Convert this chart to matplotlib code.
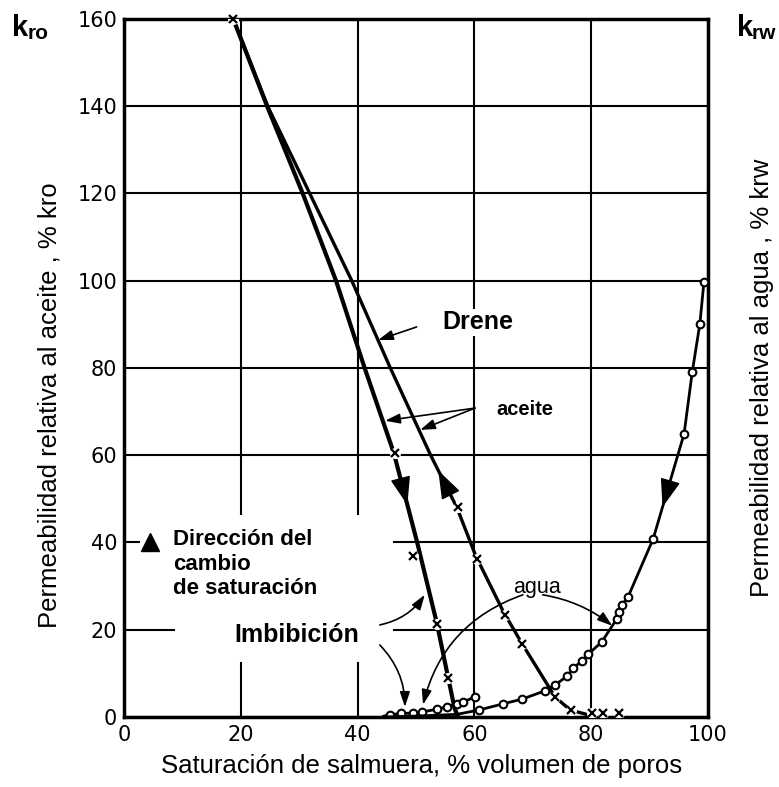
import matplotlib.pyplot as plt
from matplotlib.patches import Rectangle
import numpy as np

plt.rcParams['font.family'] = ['Liberation Sans', 'DejaVu Sans']

# oil relative permeability curves (brine saturation %, kro %)
sw_kro_imb = [18.7, 24.5, 30.6, 36.3, 41.2, 46.2, 50.2, 53.6, 55.5, 56.6, 57.2]
kro_imb = [160, 140, 120, 100, 80, 60.5, 40, 21.3, 9, 2, 0]
sw_kro_dren = [18.7, 24.6, 31.8, 39.0, 45.6, 52.5, 57.0, 60.2, 65.0, 68.2, 73.8, 76.4, 80.0]
kro_dren = [160, 140, 120, 100, 80, 60, 48, 37, 24, 16.7, 4.6, 1.6, 0.3]

# measured oil points (x marks)
sw_pts_imb = [18.7, 46.4, 49.5, 53.6, 55.5]
kro_pts_imb = [160, 60.5, 37, 21.3, 9]
sw_pts_dren = [57.2, 60.4, 65.2, 68.2, 73.8, 76.6, 80.1, 82.0, 84.7]
kro_pts_dren = [48.1, 36.2, 23.4, 16.7, 4.5, 1.5, 0.9, 0.9, 0.9]

# water relative permeability curves (open circles)
sw_krw_imb = [44.5, 45.5, 47.5, 49.5, 51.0, 53.6, 55.3, 57.0, 58.0, 60.1]
krw_imb = [0.2, 0.5, 0.8, 0.9, 1.1, 1.8, 2.3, 3.0, 3.4, 4.6]
sw_krw_dren = [44.5, 50.0, 57.0, 60.8, 64.9, 68.2, 72.1, 73.8, 75.9, 76.9, 78.4,
               79.5, 81.8, 84.4, 84.8, 85.3, 86.3, 90.6, 95.9, 97.3, 98.6, 99.3]
krw_dren = [0.0, 0.2, 0.6, 1.6, 3.0, 4.1, 6.0, 7.3, 9.4, 11.2, 12.8,
            14.4, 17.2, 22.5, 24.1, 25.7, 27.5, 40.8, 64.9, 79.1, 90.1, 99.7]

ticks = [0, 20, 40, 60, 80, 100, 120, 140, 160]

fig = plt.figure(figsize=(7.79, 7.87), dpi=100)
ax = fig.add_axes([0.1592, 0.0890, 0.7497, 0.8869])
ax.set_xlim(0, 100)
ax.set_ylim(0, 160)
ax.set_xticks(ticks[:6])
ax.set_yticks(ticks)
ax.set_xticklabels([str(t) for t in ticks[:6]], fontfamily='DejaVu Sans', fontsize=15)
ax.set_yticklabels([str(t) for t in ticks], fontfamily='DejaVu Sans', fontsize=15)
ax.tick_params(length=0)
ax.tick_params(axis='x', pad=6)
ax.tick_params(axis='y', pad=5)
ax.grid(True, color='k', lw=1.5)
ax.set_axisbelow(True)
for s in ax.spines.values():
    s.set_linewidth(2.5)

# blank areas behind the key text
ax.add_patch(Rectangle((2.7, 24), 43.3, 22.4, fc='white', ec='none', zorder=1))
ax.add_patch(Rectangle((8.7, 12.6), 37.3, 11.4, fc='white', ec='none', zorder=1))

# oil curves
ax.plot(sw_kro_imb, kro_imb, color='k', lw=3, zorder=3, solid_joinstyle='round')
ax.plot(sw_kro_dren, kro_dren, color='k', lw=2.4, zorder=3, solid_joinstyle='round')
for sw, kr in [(sw_pts_imb, kro_pts_imb), (sw_pts_dren, kro_pts_dren)]:
    ax.plot(sw, kr, 'o', color='white', ms=8, mec='none', zorder=4)
    ax.plot(sw, kr, 'x', color='k', ms=6, mew=1.6, zorder=5, clip_on=False)

# water curves
ax.plot(sw_krw_imb, krw_imb, color='k', lw=2, marker='o', ms=5.5, mfc='white',
        mec='k', mew=1.5, markevery=slice(1, None), zorder=4)
ax.plot(sw_krw_dren, krw_dren, color='k', lw=2, marker='o', ms=5.5, mfc='white',
        mec='k', mew=1.5, markevery=slice(3, None), zorder=4, clip_on=False)

# direction arrows on the curves
head = dict(arrowstyle='-|>,head_length=0.9,head_width=0.32', color='k',
            lw=1, mutation_scale=20, shrinkA=0, shrinkB=0)


def curve_arrow(sw, kr, y_tail, y_tip):
    if kr[0] > kr[-1]:
        sw, kr = sw[::-1], kr[::-1]
    p0 = (np.interp(y_tail, kr, sw), y_tail)
    p1 = (np.interp(y_tip, kr, sw), y_tip)
    ax.annotate('', xy=p1, xytext=p0, arrowprops=head, zorder=6)


curve_arrow(sw_kro_imb, kro_imb, 56, 48.6)
curve_arrow(sw_kro_dren, kro_dren, 49, 56.5)
curve_arrow(sw_krw_dren, krw_dren, 57, 48.1)

# pointer arrows from the labels
thin = dict(arrowstyle='-|>,head_length=0.6,head_width=0.2', color='k',
            lw=1.2, mutation_scale=15, shrinkA=0, shrinkB=0)
ax.annotate('', xy=(43.5, 86.4), xytext=(50.1, 89.4), arrowprops=thin)
ax.annotate('', xy=(44.7, 67.9), xytext=(60.1, 70.8), arrowprops=thin)
ax.annotate('', xy=(50.7, 65.8), xytext=(60.1, 70.8), arrowprops=thin)
ax.annotate('', xy=(51.2, 2.8), xytext=(68.3, 28.0),
            arrowprops=dict(thin, connectionstyle='arc3,rad=0.27'))
ax.annotate('', xy=(83.6, 20.9), xytext=(71.7, 28.0),
            arrowprops=dict(thin, connectionstyle='arc3,rad=-0.13'))
ax.annotate('', xy=(51.5, 28.0), xytext=(43.8, 21.1),
            arrowprops=dict(thin, connectionstyle='arc3,rad=0.2'))
ax.annotate('', xy=(48.1, 2.3), xytext=(43.8, 16.5),
            arrowprops=dict(thin, connectionstyle='arc3,rad=-0.2'))

# labels inside the plot
white = dict(fc='white', ec='none', pad=1)
ax.text(60.6, 90.5, 'Drene', fontsize=18, fontweight='bold', ha='center',
        va='center', bbox=white, zorder=6)
ax.text(68.6, 70.4, 'aceite', fontsize=14.5, fontweight='bold', ha='center',
        va='center', zorder=6)
ax.text(70.7, 29.7, 'agua', fontsize=15.5, ha='center', va='center', zorder=6)
ax.text(8.4, 43.0, 'Dirección del\ncambio\nde saturación', fontsize=16,
        fontweight='bold', ha='left', va='top', linespacing=1.2, zorder=6)
ax.text(29.5, 18.7, 'Imbibición', fontsize=18, fontweight='bold', ha='center',
        va='center', zorder=6)
ax.plot([4.5], [40], marker='^', color='k', ms=13, zorder=6)

# axis titles
fig.text(12 / 779, 1 - 36 / 787, 'k', fontsize=21, fontweight='bold', va='baseline')
fig.text(28 / 779, 1 - 39 / 787, 'ro', fontsize=15, fontweight='bold', va='baseline')
fig.text(737 / 779, 1 - 36 / 787, 'k', fontsize=21, fontweight='bold', va='baseline')
fig.text(752 / 779, 1 - 39 / 787, 'rw', fontsize=15, fontweight='bold', va='baseline')
fig.text(50 / 779, 1 - 405 / 787, 'Permeabilidad relativa al aceite , % kro',
         rotation=90, fontsize=18.5, ha='center', va='center')
fig.text(762 / 779, 1 - 378 / 787, 'Permeabilidad relativa al agua , % krw',
         rotation=90, fontsize=18.5, ha='center', va='center')
fig.text(422 / 779, 1 - 766 / 787, 'Saturación de salmuera, % volumen de poros',
         fontsize=18.5, ha='center', va='center')

fig.savefig('out.png', dpi=100)
